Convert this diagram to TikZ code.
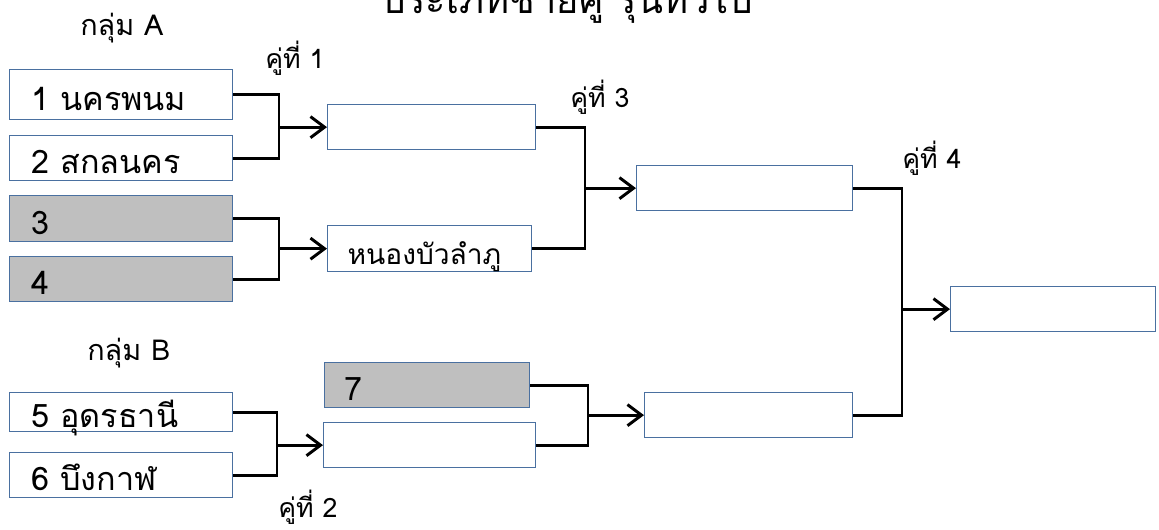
\documentclass[tikz,border=0pt]{standalone}
\usepackage{fontspec}
\newfontfamily\thaifont[Script=Thai]{Loma}
\usetikzlibrary{arrows.meta}
\definecolor{boxblue}{RGB}{74,112,160}
\definecolor{byegray}{RGB}{191,191,191}
\tikzset{
  team/.style={draw=boxblue, line width=0.9pt, fill=white, anchor=north west,
    inner xsep=0.55cm, inner ysep=0pt, text height=0.775cm, text depth=0pt,
    align=left, text width=#1, font=\thaifont\fontsize{23}{23}\selectfont},
  bye/.style={team=#1, fill=byegray},
  pairline/.style={line width=2.1pt},
  pairarrow/.style={line width=2.1pt, -{Straight Barb[length=10pt,width=15pt]}},
  roundtext/.style={anchor=base west, inner sep=0pt,
    font=\thaifont\fontsize{19}{19}\selectfont},
  grouptext/.style={anchor=base west, inner sep=0pt,
    font=\thaifont\fontsize{20.5}{20.5}\selectfont},
  titletext/.style={anchor=base, inner sep=0pt,
    font=\thaifont\fontsize{27}{27}\selectfont}
}
\begin{document}
\begin{tikzpicture}[x=0.025cm, y=-0.025cm]
      \useasboundingbox (0,0) rectangle (1159,529);

      \node[titletext] (title) at (567,13) {ประเภทชายคู่ รุ่นทั่วไป};
      \node[grouptext] (ga) at (80,35) {กลุ่ม A};
      \node[grouptext] (gb) at (87,360) {กลุ่ม B};

      % first round
      \node[team=4.475cm, minimum height=1.25cm] (n1) at (9,69) {1 นครพนม};
      \node[team=4.475cm, minimum height=1.125cm] (n2) at (9,135) {2 สกลนคร};
      \node[bye=4.475cm, minimum height=1.15cm] (n3) at (9,195) {3};
      \node[bye=4.475cm, minimum height=1.125cm] (n4) at (9,256) {4};
      \node[team=4.475cm, minimum height=0.975cm] (n5) at (9,392) {5 อุดรธานี};
      \node[team=4.475cm, minimum height=1.125cm] (n6) at (9,452) {6 บึงกาฬ};

      % second round
      \node[team=4.1cm, minimum height=1.125cm] (w1) at (327,104) {};
      \node[team=4.1cm, minimum height=1.15cm, inner xsep=0.5cm,
        font=\thaifont\fontsize{20}{20}\selectfont] (w2) at (327,225) {หนองบัวลำภู};
      \node[bye=4.125cm, minimum height=1.125cm, inner xsep=0.5cm] (n7) at (324,362) {7};
      \node[team=4.2cm, minimum height=1.125cm] (w3) at (323,422) {};

      % semi final and final
      \node[team=4.3cm, minimum height=1.125cm] (s1) at (636,165) {};
      \node[team=4.1cm, minimum height=1.125cm] (s2) at (644,392) {};
      \node[team=4.025cm, minimum height=1.125cm] (fin) at (950,286) {};

      \path (279,0) coordinate (c1) (277,0) coordinate (c2)
        (585,0) coordinate (c3) (588,0) coordinate (c3b) (902,0) coordinate (c4);

      \draw[pairline] (n1.east) -| (c1 |- w1.west) |- (n2.east);
      \draw[pairarrow] (c1 |- w1.west) -- (w1.west);
      \draw[pairline] (n3.east) -| (c1 |- w2.west) |- (n4.east);
      \draw[pairarrow] (c1 |- w2.west) -- (w2.west);
      \draw[pairline] (n5.east) -| (c2 |- w3.west) |- (n6.east);
      \draw[pairarrow] (c2 |- w3.west) -- (w3.west);

      \draw[pairline] (w1.east) -| (c3 |- s1.west) |- (w2.east);
      \draw[pairarrow] (c3 |- s1.west) -- (s1.west);
      \draw[pairline] (n7.east) -| (c3b |- s2.west) |- (w3.east);
      \draw[pairarrow] (c3b |- s2.west) -- (s2.west);

      \draw[pairline] (s1.east) -| (c4 |- fin.west) |- (s2.east);
      \draw[pairarrow] (c4 |- fin.west) -- (fin.west);

      \node[roundtext] (q1) at (265,68) {คู่ที่ 1};
      \node[roundtext] (q2) at (278,517) {คู่ที่ 2};
      \node[roundtext] (q3) at (570,107) {คู่ที่ 3};
      \node[roundtext] (q4) at (902,168) {คู่ที่ 4};
    \end{tikzpicture}
\end{document}
